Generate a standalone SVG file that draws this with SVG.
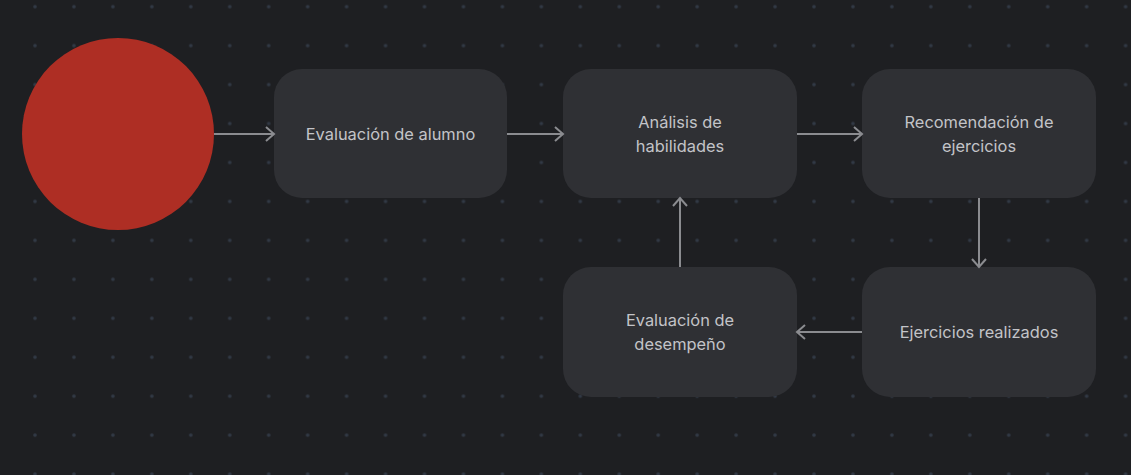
<svg xmlns="http://www.w3.org/2000/svg" width="1131" height="475" viewBox="0 0 1131 475">
<defs>
<pattern id="dots" x="35" y="6.7" width="38.95" height="38.95" patternUnits="userSpaceOnUse">
<circle cx="0" cy="0" r="1.8" fill="#313945"/>
<circle cx="38.95" cy="0" r="1.8" fill="#313945"/>
<circle cx="0" cy="38.95" r="1.8" fill="#313945"/>
<circle cx="38.95" cy="38.95" r="1.8" fill="#313945"/>
</pattern>
<marker id="arr" markerWidth="14" markerHeight="16" refX="11" refY="8" orient="auto" markerUnits="userSpaceOnUse">
<path d="M3,1 L11,8 L3,15" fill="none" stroke="#8b8c90" stroke-width="2"/>
</marker>
<style>
.node rect{fill:#2f3034;}
.node text{font-family:Inter,"Noto Sans","Liberation Sans",sans-serif;font-size:16.4px;fill:#c3c4c8;text-anchor:middle;}
.edge{stroke:#8b8c90;stroke-width:2;fill:none;marker-end:url(#arr);}
</style>
</defs>
<rect width="1131" height="475" fill="#1e1f22"/>
<rect width="1131" height="475" fill="url(#dots)"/>
<g id="start"><circle cx="118" cy="134" r="96" fill="#ae2e24"/></g>
<g id="n1" class="node"><rect x="274" y="69" width="233" height="129" rx="28"/><text x="390.5" y="140">Evaluación de alumno</text></g>
<g id="n2" class="node"><rect x="563" y="69" width="234" height="129" rx="28"/><text x="680" y="128">Análisis de</text><text x="680" y="152">habilidades</text></g>
<g id="n3" class="node"><rect x="862" y="69" width="234" height="129" rx="28"/><text x="979" y="128">Recomendación de</text><text x="979" y="152">ejercicios</text></g>
<g id="n4" class="node"><rect x="862" y="267" width="234" height="130" rx="28"/><text x="979" y="338">Ejercicios realizados</text></g>
<g id="n5" class="node"><rect x="563" y="267" width="234" height="130" rx="28"/><text x="680" y="326">Evaluación de</text><text x="680" y="350">desempeño</text></g>
<g id="edges">
<path class="edge" d="M214,134 L274,134"/>
<path class="edge" d="M507,134 L563,134"/>
<path class="edge" d="M797,134 L862,134"/>
<path class="edge" d="M979,198 L979,267"/>
<path class="edge" d="M862,332 L797,332"/>
<path class="edge" d="M680,267 L680,198"/>
</g>
</svg>
